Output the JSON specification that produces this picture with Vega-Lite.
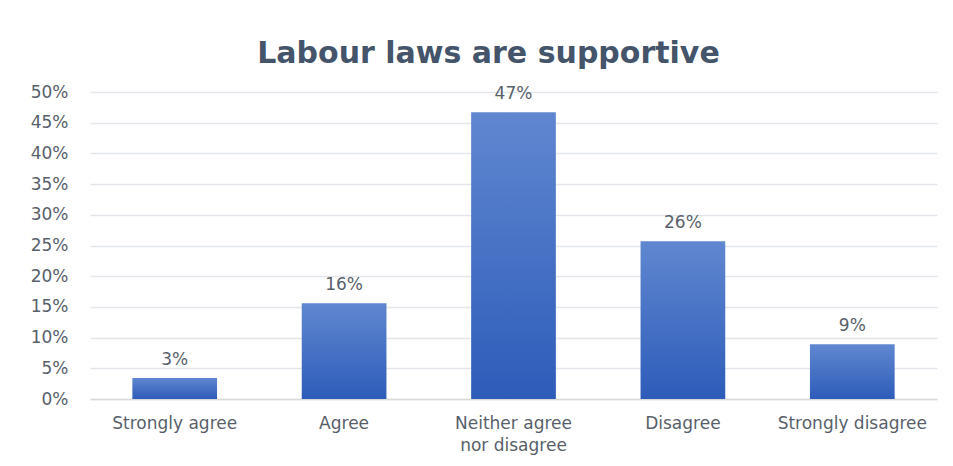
{
  "$schema": "https://vega.github.io/schema/vega-lite/v6.json",
  "autosize": "none",
  "width": 847,
  "height": 307,
  "padding": {"left": 90, "top": 92, "right": 16, "bottom": 67},
  "background": "white",
  "title": {
    "text": "Labour laws are supportive",
    "font": "DejaVu Sans",
    "fontSize": 30,
    "fontWeight": "bold",
    "color": "#44546a",
    "anchor": "middle",
    "dx": -25,
    "offset": 14
  },
  "data": {
    "values": [
      {"response": "Strongly agree", "share": 0.034},
      {"response": "Agree", "share": 0.156},
      {"response": "Neither agree nor disagree", "share": 0.467},
      {"response": "Disagree", "share": 0.257},
      {"response": "Strongly disagree", "share": 0.089}
    ]
  },
  "encoding": {
    "x": {
      "field": "response",
      "type": "nominal",
      "sort": null,
      "scale": {"paddingInner": 0.5, "paddingOuter": 0.25},
      "axis": {
        "title": null,
        "labelAngle": 0,
        "labelFont": "DejaVu Sans",
        "labelFontSize": 17,
        "labelColor": "#585f6b",
        "labelPadding": 16,
        "labelLineHeight": 22,
        "labelExpr": "datum.value == 'Neither agree nor disagree' ? ['Neither agree', 'nor disagree'] : datum.value",
        "ticks": false,
        "domainColor": "#d9d9d9",
        "domainWidth": 1.5,
        "grid": false
      }
    },
    "y": {
      "field": "share",
      "type": "quantitative",
      "scale": {"domain": [0, 0.5], "nice": false},
      "axis": {
        "title": null,
        "format": ".0%",
        "values": [0, 0.05, 0.1, 0.15, 0.2, 0.25, 0.3, 0.35, 0.4, 0.45, 0.5],
        "labelFont": "DejaVu Sans",
        "labelFontSize": 17,
        "labelColor": "#585f6b",
        "labelPadding": 22,
        "ticks": false,
        "domain": false,
        "gridColor": "#e3e6ea",
        "gridWidth": 1.5
      }
    }
  },
  "layer": [
    {
      "mark": {
        "type": "bar",
        "color": {
          "gradient": "linear",
          "x1": 0, "y1": 0, "x2": 0, "y2": 1,
          "stops": [
            {"offset": 0, "color": "#6087d0"},
            {"offset": 1, "color": "#2d5cb9"}
          ]
        }
      }
    },
    {
      "mark": {
        "type": "text",
        "font": "DejaVu Sans",
        "fontSize": 17,
        "color": "#585f6b",
        "baseline": "bottom",
        "dy": -9
      },
      "encoding": {
        "text": {"field": "share", "type": "quantitative", "format": ".0%"}
      }
    }
  ],
  "config": {"view": {"stroke": null}}
}
